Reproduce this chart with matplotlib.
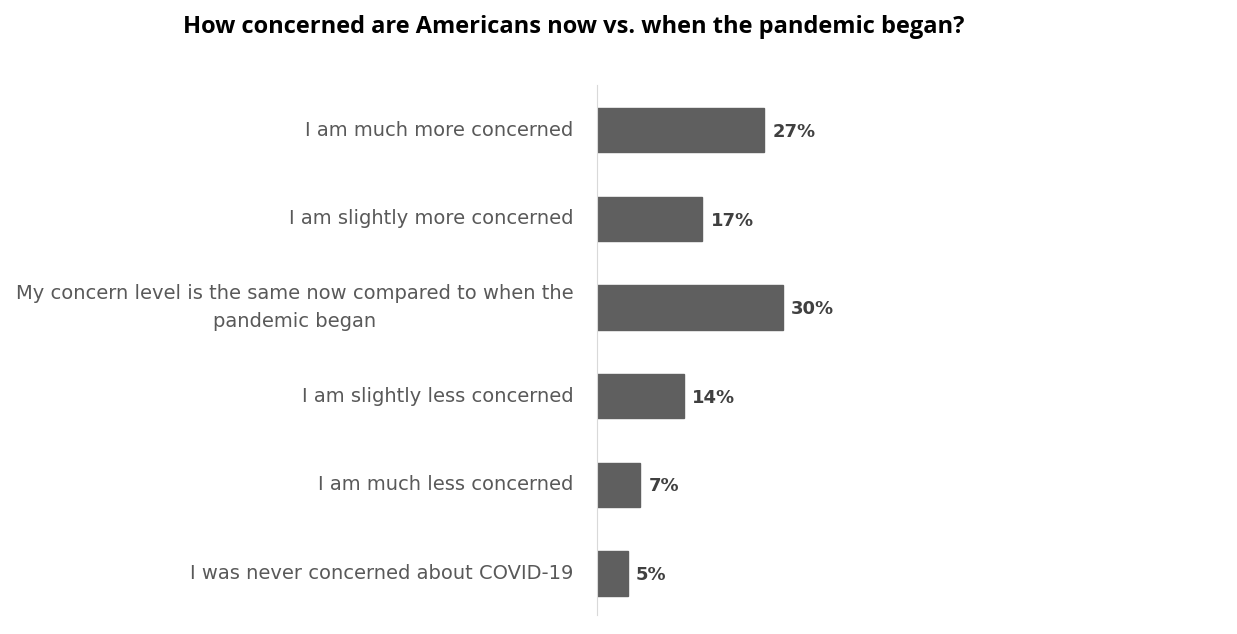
import matplotlib.pyplot as plt

# data
categories = ["I am much more concerned",
              "I am slightly more concerned",
              "My concern level is the same now compared to when the\npandemic began",
              "I am slightly less concerned",
              "I am much less concerned",
              "I was never concerned about COVID-19"]
values = [27, 17, 30, 14, 7, 5]

fig = plt.figure(figsize=(12.37, 6.34), dpi=100)
ax = fig.add_axes([597/1237, 1-615/634, 620/1237, 530/634])

pos = list(range(len(categories)))
ax.barh(pos, values, height=0.5, color="#5f5f5f", edgecolor="#5f5f5f")

for p, v in zip(pos, values):
    ax.text(v + 1.3, p + 0.02, f"{v}%", va="center", ha="left",
            fontsize=13, fontweight="bold", color="#404040", family="DejaVu Sans")

ax.set_xlim(0, 100)
ax.set_ylim(5.47, -0.51)
ax.set_yticks(pos)
ax.set_yticklabels(categories, fontsize=14, color="#595959", family="DejaVu Sans",
                   linespacing=1.6, multialignment="center", va="center")
ax.tick_params(axis="y", length=0, pad=17)
ax.set_xticks([])
for s in ["top", "right", "bottom"]:
    ax.spines[s].set_visible(False)
ax.spines["left"].set_color("#d9d9d9")

fig.text(574/1237, 1-27/634, "How concerned are Americans now vs. when the pandemic began?",
         ha="center", va="center", fontsize=17, fontweight="bold",
         family="Open Sans", color="black")

fig.savefig("out.png", dpi=100)
